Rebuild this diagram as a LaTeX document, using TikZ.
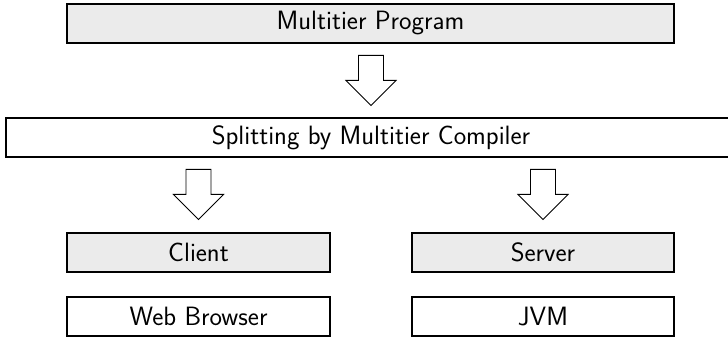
\documentclass[tikz,border=0pt]{standalone}
\usepackage{fontspec}
\usetikzlibrary{calc}
\definecolor{boxgray}{HTML}{EBEBEB}
\tikzset{
  stage/.style={draw=black, line width=1.2pt, minimum height=39pt, inner sep=0pt,
    font=\sffamily\fontsize{26.5}{30}\selectfont},
  shaded/.style={stage, fill=boxgray},
  plain/.style={stage, fill=white},
  hollow arrow/.pic={
    \draw[line width=0.9pt, fill=white, line join=miter]
      (0,0) -- (25,-25) -- (12.5,-25) -- (12.5,-50) -- (-12.5,-50)
      -- (-12.5,-25) -- (-25,-25) -- cycle;
  }
}
\begin{document}
\begin{tikzpicture}[x=1pt, y=-1pt]
  \useasboundingbox (0,0) rectangle (728,338);

  \node[shaded, minimum width=607pt] (prog) at (370.5,23.5) {Multitier Program};
  \node[plain, minimum width=730pt] (split) at (371,137.5) {Splitting by Multitier Compiler};

  \node[shaded, minimum width=263pt] (client) at (198.5,252.5) {Client};
  \node[shaded, minimum width=262pt] (server) at (543,252.5) {Server};
  \node[plain, minimum width=263pt] (browser) at (198.5,316.5) {Web Browser};
  \node[plain, minimum width=262pt] (jvm) at (543,316.5) {JVM};

  % block arrows between the stages
  \pic at ($(split.north)+(0,-12)$) {hollow arrow};
  \pic at ($(client.north)+(0,-13)$) {hollow arrow};
  \pic at ($(server.north)+(0,-13)$) {hollow arrow};
\end{tikzpicture}
\end{document}
